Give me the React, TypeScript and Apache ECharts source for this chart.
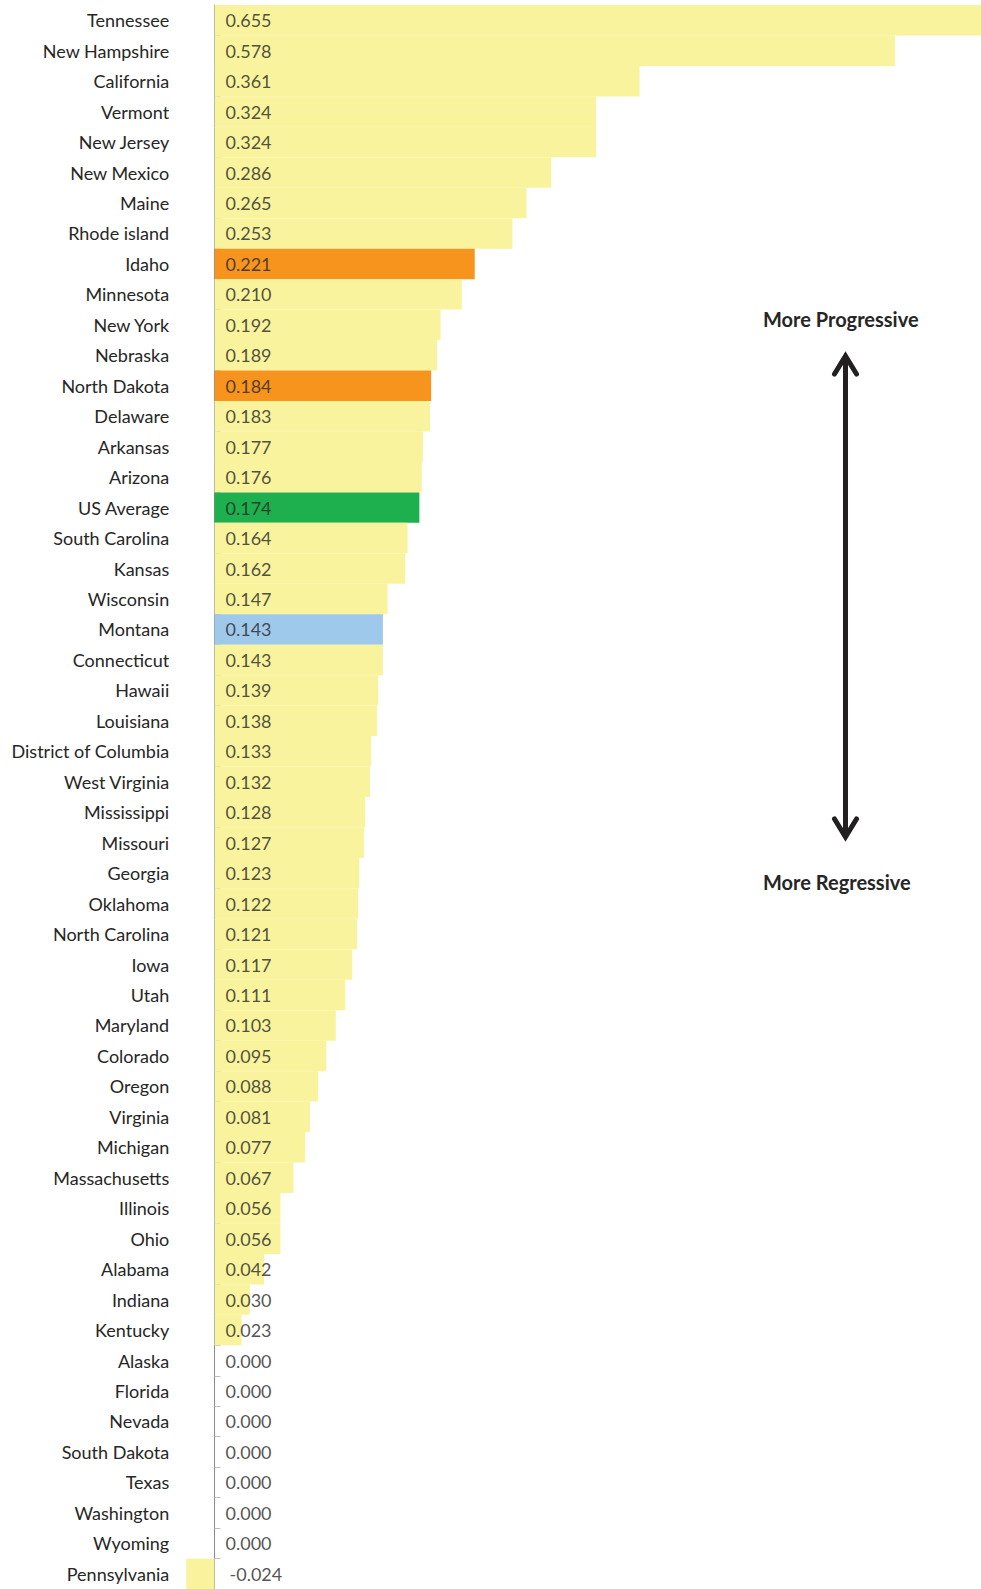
import React, { useEffect, useRef } from "react";
import * as echarts from "echarts";

const states: string[] = [
  "Tennessee", "New Hampshire", "California", "Vermont", "New Jersey", "New Mexico", "Maine", "Rhode island",
  "Idaho", "Minnesota", "New York", "Nebraska", "North Dakota", "Delaware", "Arkansas", "Arizona",
  "US Average", "South Carolina", "Kansas", "Wisconsin", "Montana", "Connecticut", "Hawaii", "Louisiana",
  "District of Columbia", "West Virginia", "Mississippi", "Missouri", "Georgia", "Oklahoma", "North Carolina", "Iowa",
  "Utah", "Maryland", "Colorado", "Oregon", "Virginia", "Michigan", "Massachusetts", "Illinois",
  "Ohio", "Alabama", "Indiana", "Kentucky", "Alaska", "Florida", "Nevada", "South Dakota",
  "Texas", "Washington", "Wyoming", "Pennsylvania",
];

const values: number[] = [
  0.655, 0.578, 0.361, 0.324, 0.324, 0.286, 0.265, 0.253,
  0.221, 0.21, 0.192, 0.189, 0.184, 0.183, 0.177, 0.176,
  0.174, 0.164, 0.162, 0.147, 0.143, 0.143, 0.139, 0.138,
  0.133, 0.132, 0.128, 0.127, 0.123, 0.122, 0.121, 0.117,
  0.111, 0.103, 0.095, 0.088, 0.081, 0.077, 0.067, 0.056,
  0.056, 0.042, 0.03, 0.023, 0, 0, 0, 0,
  0, 0, 0, -0.024,
];

const orangeStates: string[] = ["Idaho", "North Dakota"];
const greenStates: string[] = ["US Average"];
const blueStates: string[] = ["Montana"];

const topLabel = "More Progressive";
const bottomLabel = "More Regressive";

const YELLOW = "#F8F39C";
const ORANGE = "#F7941E";
const GREEN = "#1EAF4E";
const BLUE = "#9FC9EB";
const FONT = "Lato, 'Open Sans', sans-serif";
const TEXT = "#262626";

function colorFor(name: string): string {
  if (orangeStates.includes(name)) return ORANGE;
  if (greenStates.includes(name)) return GREEN;
  if (blueStates.includes(name)) return BLUE;
  return YELLOW;
}

export default function App() {
  const ref = useRef<HTMLDivElement>(null);
  useEffect(() => {
    if (!ref.current) return;
    const chart = echarts.init(ref.current, undefined, { renderer: "svg" });
    const arrowX = 845.5;
    const topTip = 352;
    const botTip = 841;
    const stroke = "#231F20";
    chart.setOption({
      animation: false,
      grid: {
        left: 179.2,
        right: 0,
        top: 5,
        bottom: 0,
        containLabel: false,
        outerBoundsMode: "none",
      },
      xAxis: {
        type: "value",
        min: -0.03,
        max: 0.651,
        show: false,
      },
      yAxis: {
        type: "category",
        inverse: true,
        data: states,
        axisLine: { show: true, onZero: true, lineStyle: { color: "#8C8C8C", width: 1 } },
        axisTick: { show: true, inside: true, length: 6, lineStyle: { color: "#BFBFBF" } },
        axisLabel: { margin: 10, fontFamily: FONT, fontSize: 18, color: TEXT },
        splitLine: { show: false },
      },
      series: [
        {
          type: "bar",
          barCategoryGap: "0%",
          data: states.map((s, i) => ({ value: values[i], itemStyle: { color: colorFor(s) } })),
          z: 1,
        },
        {
          type: "scatter",
          symbolSize: 0,
          silent: true,
          z: 5,
          data: states.map((s, i) => ({
            value: [0, i],
            label: { distance: values[i] < 0 ? 15 : 11 },
          })),
          label: {
            show: true,
            position: "right",
            distance: 11,
            fontFamily: FONT,
            fontSize: 18,
            color: TEXT,
            formatter: (p: any) => values[p.dataIndex].toFixed(3),
          },
        },
      ],
      graphic: [
        {
          type: "text",
          left: 763,
          top: 309,
          style: { text: topLabel, font: `bold 20px ${FONT}`, fill: TEXT },
        },
        {
          type: "text",
          left: 763,
          top: 872,
          style: { text: bottomLabel, font: `bold 20px ${FONT}`, fill: TEXT },
        },
        {
          type: "line",
          shape: { x1: arrowX, y1: topTip + 4, x2: arrowX, y2: botTip - 4 },
          style: { stroke, lineWidth: 5 },
        },
        {
          type: "polyline",
          shape: { points: [[arrowX - 11, topTip + 22], [arrowX, topTip + 4], [arrowX + 11, topTip + 22]] },
          style: { stroke, lineWidth: 5, fill: "none", lineJoin: "miter", lineCap: "round" },
        },
        {
          type: "polyline",
          shape: { points: [[arrowX - 11, botTip - 22], [arrowX, botTip - 4], [arrowX + 11, botTip - 22]] },
          style: { stroke, lineWidth: 5, fill: "none", lineJoin: "miter", lineCap: "round" },
        },
      ],
    });
    return () => chart.dispose();
  }, []);
  return (
    <div
      ref={ref}
      style={{ position: "absolute", left: 0, top: 0, width: 981, height: 1589, background: "#ffffff" }}
    />
  );
}
